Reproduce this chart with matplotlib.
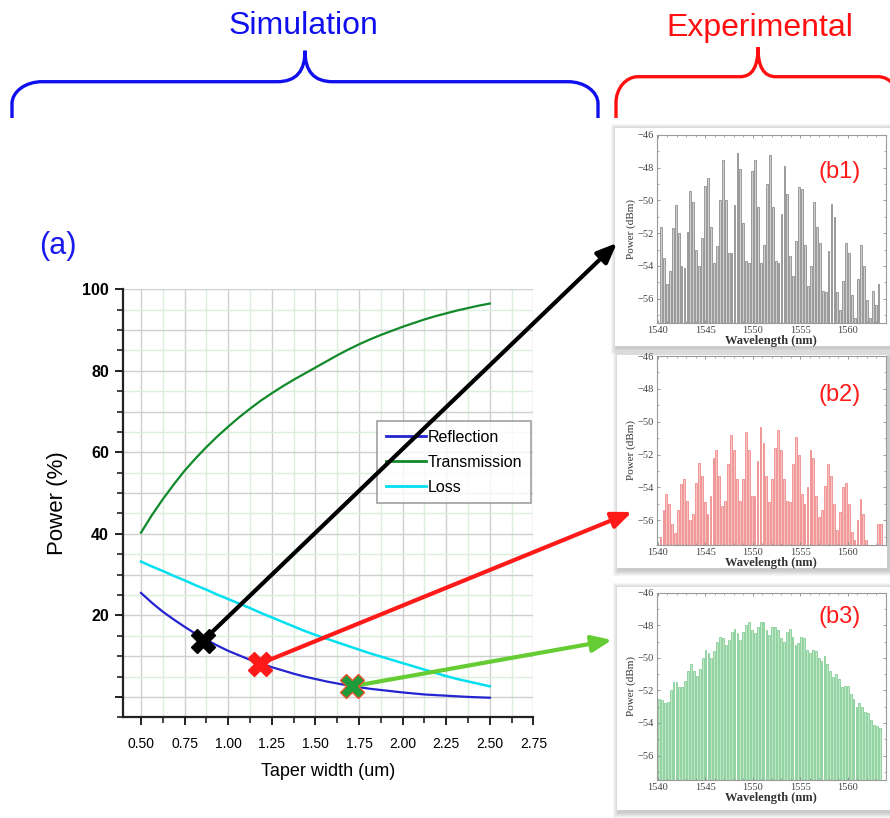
import numpy as np
import matplotlib
matplotlib.use("Agg")
import matplotlib.pyplot as plt
from matplotlib.path import Path
from matplotlib.patches import PathPatch, Rectangle
from matplotlib.ticker import MultipleLocator, FuncFormatter

W, H = 890, 818

# Simulation data (a)
taper_width = [0.5, 0.5625, 0.625, 0.6875, 0.75, 0.8125, 0.875, 0.9375,
               1.0, 1.0625, 1.125, 1.1875, 1.25, 1.3125, 1.375, 1.4375,
               1.5, 1.5625, 1.625, 1.6875, 1.75, 1.8125, 1.875, 1.9375,
               2.0, 2.0625, 2.125, 2.1875, 2.25, 2.3125, 2.375, 2.4375, 2.5]
reflection = [25.5, 23.1, 20.9, 19.0, 17.2, 15.5, 14.0, 12.6,
              11.3, 10.2, 9.1, 8.2, 7.3, 6.5, 5.7, 5.0,
              4.4, 3.8, 3.3, 2.8, 2.4, 2.0, 1.7, 1.4,
              1.1, 0.85, 0.6, 0.45, 0.3, 0.15, 0.0, -0.1, -0.2]
transmission = [40.3, 44.6, 48.5, 52.1, 55.5, 58.5, 61.3, 63.9,
                66.3, 68.6, 70.7, 72.7, 74.5, 76.2, 77.8, 79.3,
                80.8, 82.3, 83.8, 85.2, 86.5, 87.7, 88.8, 89.8,
                90.8, 91.7, 92.6, 93.4, 94.1, 94.8, 95.4, 96.0, 96.5]
loss = [33.2, 32.0, 30.9, 29.7, 28.6, 27.4, 26.3, 25.1,
        24.0, 22.9, 21.8, 20.6, 19.5, 18.4, 17.3, 16.2,
        15.2, 14.3, 13.4, 12.5, 11.6, 10.7, 9.9, 9.1,
        8.3, 7.5, 6.7, 5.9, 5.1, 4.4, 3.8, 3.2, 2.6]

# chosen taper widths and their reflection
pick_width = [0.856, 1.18, 1.71]
pick_refl = [13.8, 8.1, 2.6]

# Experimental spectra (b1-b3), dBm, channels on ~0.31 nm grid
b1_power = [-51.6, -53.5, -55.1, -54.3, -51.7, -50.3, -52.0, -54.0, -54.1, -51.9,
            -49.4, -50.1, -53.0, -54.0, -52.3, -49.1, -48.6, -51.6, -53.8, -52.8,
            -50.0, -47.5, -50.0, -53.2, -53.2, -50.3, -47.1, -48.1, -51.4, -53.7,
            -53.8, -48.2, -47.5, -50.4, -53.8, -52.7, -49.0, -47.2, -50.4, -53.7,
            -53.8, -50.8, -47.9, -49.6, -53.4, -54.6, -52.5, -49.2, -49.3, -52.7,
            -55.2, -54.0, -50.1, -51.6, -52.6, -55.5, -55.6, -53.1, -50.2, -51.0,
            -55.6, -56.7, -54.9, -52.6, -53.2, -55.8, -57.2, -54.8, -52.7, -54.0,
            -56.1, -57.2, -55.5, -56.4, -55.1]
b2_power = [-57.0, -55.4, -54.4, -55.0, -56.2, -56.8, -55.4, -53.8, -53.5, -54.8,
            -56.0, -55.6, -53.7, -52.5, -53.3, -54.9, -55.6, -54.5, -52.2, -51.7,
            -53.3, -55.1, -54.8, -52.6, -50.8, -51.7, -53.5, -54.8, -53.5, -50.6,
            -51.7, -54.5, -54.5, -52.4, -50.3, -51.3, -53.3, -54.9, -53.5, -51.6,
            -50.5, -51.7, -53.5, -54.8, -54.9, -52.6, -50.9, -52.0, -54.4, -55.0,
            -54.0, -51.7, -52.2, -54.5, -55.8, -55.4, -53.9, -52.6, -53.3, -55.0,
            -56.6, -55.5, -54.0, -53.7, -55.0, -56.7, -57.2, -56.0, -54.7, -55.6,
            -57.2, -57.5, -57.5, -57.5, -56.2, -56.2]
b3_power = [-52.5, -52.6, -52.8, -52.7, -52.0, -51.5, -51.5, -51.8, -51.8, -51.4,
            -50.8, -50.4, -50.8, -51.1, -50.7, -50.0, -49.5, -49.7, -50.0, -49.6,
            -49.0, -48.7, -48.8, -49.2, -48.9, -48.4, -48.2, -48.5, -48.9, -48.4,
            -48.0, -47.8, -48.3, -48.5, -48.1, -47.8, -47.8, -48.3, -48.6, -48.1,
            -48.1, -48.3, -48.8, -49.0, -48.4, -48.2, -48.7, -49.2, -49.1, -48.7,
            -48.8, -49.5, -49.7, -49.5, -49.6, -50.0, -50.2, -49.9, -50.4, -50.8,
            -51.2, -51.0, -51.3, -51.8, -51.7, -51.7, -52.2, -52.5, -53.0, -52.8,
            -53.0, -53.3, -53.4, -53.8, -54.1, -54.2, -54.3]
spec_start = [1540.35, 1540.3, 1540.15]
spec_step = [0.309, 0.309, 0.305]
spec_labels = ["(b1)", "(b2)", "(b3)"]


def fx(px):
    return px / W


def fy(py):
    return 1 - py / H


def box(left, top, right, bottom):
    return [fx(left), fy(bottom), (right - left) / W, (bottom - top) / H]


fig = plt.figure(figsize=(W / 100, H / 100), dpi=100)
sans = "Liberation Sans"
serif = "Liberation Serif"

# ---- curly braces and headings ----
def brace(x0, x1, xc, yend, yh, ytip, rx, ry, c, color):
    k = 0.55
    verts = [(x0, yend), (x0, yh + ry),
             (x0, yh + ry * (1 - k)), (x0 + rx * (1 - k), yh), (x0 + rx, yh),
             (xc - c, yh),
             (xc - c * 0.3, yh), (xc, yh - (yh - ytip) * 0.35), (xc, ytip),
             (xc, yh - (yh - ytip) * 0.35), (xc + c * 0.3, yh), (xc + c, yh),
             (x1 - rx, yh),
             (x1 - rx * (1 - k), yh), (x1, yh + ry * (1 - k)), (x1, yh + ry),
             (x1, yend)]
    codes = [Path.MOVETO, Path.LINETO,
             Path.CURVE4, Path.CURVE4, Path.CURVE4,
             Path.LINETO,
             Path.CURVE4, Path.CURVE4, Path.CURVE4,
             Path.CURVE4, Path.CURVE4, Path.CURVE4,
             Path.LINETO,
             Path.CURVE4, Path.CURVE4, Path.CURVE4,
             Path.LINETO]
    verts = [(fx(a), fy(b)) for a, b in verts]
    fig.add_artist(PathPatch(Path(verts, codes), transform=fig.transFigure,
                             fill=False, edgecolor=color, lw=2.4,
                             capstyle="butt"))


brace(12, 598, 305, 118, 81.7, 50.7, 30, 22, 28, "#1010ee")
brace(616, 900, 758, 118, 76.7, 47.3, 22, 26, 18, "#ff1010")

fig.text(fx(303), fy(26), "Simulation", color="#1010ee", fontsize=23,
         family=sans, ha="center", va="center")
fig.text(fx(760), fy(28), "Experimental", color="#ff1010", fontsize=23,
         family=sans, ha="center", va="center")
fig.text(fx(58), fy(246), "(a)", color="#1a1aee", fontsize=22,
         family=sans, ha="center", va="center")

# ---- main simulation plot ----
ax = fig.add_axes(box(122.7, 289.3, 533.4, 717.3), zorder=3)
ax.patch.set_alpha(0)
ax.plot(taper_width, reflection, color="#2424d0", lw=1.6, label="Reflection")
ax.plot(taper_width, transmission, color="#12892a", lw=1.6, label="Transmission")
ax.plot(taper_width, loss, color="#00e0f0", lw=1.8, label="Loss")

ax.set_xlim(0.395, 2.75)
ax.set_ylim(-5, 100)
ax.xaxis.set_major_locator(MultipleLocator(0.25))
ax.xaxis.set_minor_locator(MultipleLocator(0.125))
ax.yaxis.set_major_locator(MultipleLocator(20))
ax.yaxis.set_minor_locator(MultipleLocator(5))
ax.xaxis.set_major_formatter(FuncFormatter(lambda v, p: "%.2f" % v))
ax.yaxis.set_major_formatter(FuncFormatter(lambda v, p: "" if v < 10 else "%d" % v))

# grid: grey every 0.25 / 10 %, light green in between
for xv in np.arange(0.5, 2.76, 0.125):
    major = abs(xv / 0.25 - round(xv / 0.25)) < 1e-6
    ax.axvline(xv, color="#cfcfcf" if major else "#dcefdc", lw=1.0, zorder=0)
for yv in range(0, 101, 5):
    ax.axhline(yv, color="#cfcfcf" if yv % 10 == 0 else "#dcefdc", lw=1.0, zorder=0)

for s in ["top", "right"]:
    ax.spines[s].set_visible(False)
for s in ["left", "bottom"]:
    ax.spines[s].set_linewidth(1.6)
    ax.spines[s].set_color("#222222")
ax.tick_params(which="major", direction="out", length=6, width=1.4, color="#222222")
ax.tick_params(which="minor", direction="out", length=4, width=1.2, color="#222222")
ax.tick_params(axis="x", labelsize=10, pad=8)
ax.tick_params(axis="y", labelsize=11.5, pad=4)
for t in ax.get_yticklabels():
    t.set_fontweight("bold")
    t.set_family(sans)
for t in ax.get_xticklabels():
    t.set_family(sans)
ax.set_xlabel("Taper width (um)", fontsize=13, family=sans, labelpad=9)
ax.set_ylabel("Power (%)", fontsize=16, family=sans, labelpad=10)

leg = ax.legend(loc="upper left", bbox_to_anchor=(0.62, 0.692),
                prop={"family": sans, "size": 11.5}, frameon=True, fancybox=False,
                borderpad=0.55, labelspacing=0.62, handlelength=2.5,
                handletextpad=0.1, borderaxespad=0)
leg.get_frame().set_edgecolor("#888888")
leg.get_frame().set_linewidth(1.2)
for ln in leg.get_lines():
    ln.set_linewidth(2.0)

# arrows from chosen points to the measured spectra
arrow_tips = [(617, 243), (632, 512), (612, 640)]
arrow_colors = ["#000000", "#ff1a1a", "#66cc33"]
mark_colors = ["#000000", "#ff1a1a", "#1e9c3c"]
mark_edges = ["#000000", "#ff1a1a", "#e8502a"]
for i in range(3):
    ax.annotate("", xy=(fx(arrow_tips[i][0]), fy(arrow_tips[i][1])),
                xycoords="figure fraction",
                xytext=(pick_width[i], pick_refl[i]), textcoords="data",
                arrowprops=dict(arrowstyle="-|>,head_length=1.2,head_width=0.5",
                                color=arrow_colors[i], lw=3, shrinkA=0, shrinkB=0),
                annotation_clip=False, zorder=6)
    ax.plot(pick_width[i], pick_refl[i], marker="X", ms=17, color=mark_colors[i],
            mec=mark_edges[i], mew=1.0, zorder=7, clip_on=False)

# ---- experimental spectra panels ----
panels = [(615, 128, 890, 346), (617, 355, 887, 568), (617, 587, 890, 810)]
spec_axes = [(656.7, 135, 886, 323.3), (656.7, 356, 886, 545), (656.7, 592.7, 886, 780)]
bar_face = ["#cfcfcf", "#f9c2c2", "#bfe6c7"]
bar_edge = ["#8e8e8e", "#f08a8a", "#86cf97"]
powers = [b1_power, b2_power, b3_power]
label_pos = [(840, 172), (840, 395), (840, 617)]

for i in range(3):
    l, t, r, b = panels[i]
    for k in range(6, 0, -1):
        fig.add_artist(Rectangle((fx(l - k + 2), fy(b + k + 2)), (r - l + 2 * k) / W,
                                 (b - t + 2 * k) / H, transform=fig.transFigure,
                                 color="#000000", alpha=0.035, lw=0, zorder=0))
    fig.add_artist(Rectangle((fx(l), fy(b)), (r - l) / W, (b - t) / H,
                             transform=fig.transFigure, color="white", lw=0, zorder=0.5))

    sx = fig.add_axes(box(*spec_axes[i]), zorder=1)
    p = np.array(powers[i])
    wl = spec_start[i] + spec_step[i] * np.arange(len(p))
    ybot = -57.5
    sx.bar(wl, p - ybot, bottom=ybot, width=0.19, color=bar_face[i],
           edgecolor=bar_edge[i], lw=0.6)
    sx.set_xlim(1539.9, 1564)
    sx.set_ylim(ybot, -46)
    sx.set_xticks([1540, 1545, 1550, 1555, 1560])
    sx.set_yticks([-56, -54, -52, -50, -48, -46])
    sx.xaxis.set_minor_locator(MultipleLocator(1))
    sx.yaxis.set_minor_locator(MultipleLocator(1))
    sx.tick_params(which="both", direction="in", top=True, right=True,
                   color="#888888", labelsize=7.5, labelcolor="#444444", pad=2)
    sx.tick_params(which="major", length=2.5, width=0.6)
    sx.tick_params(which="minor", length=1.2, width=0.5)
    for t_ in sx.get_xticklabels() + sx.get_yticklabels():
        t_.set_family(serif)
    for s in sx.spines.values():
        s.set_color("#9a9a9a")
        s.set_linewidth(0.8)
    sx.set_xlabel("Wavelength (nm)", fontsize=9, family=serif,
                  fontweight="bold", color="#333333", labelpad=0)
    sx.set_ylabel("Power (dBm)", fontsize=8, family=serif, color="#333333",
                  labelpad=1)
    fig.text(fx(label_pos[i][0]), fy(label_pos[i][1]), spec_labels[i],
             color="#ff1a1a", fontsize=17, family=sans, ha="center", va="center",
             zorder=4)

fig.savefig("out.png", dpi=100)
